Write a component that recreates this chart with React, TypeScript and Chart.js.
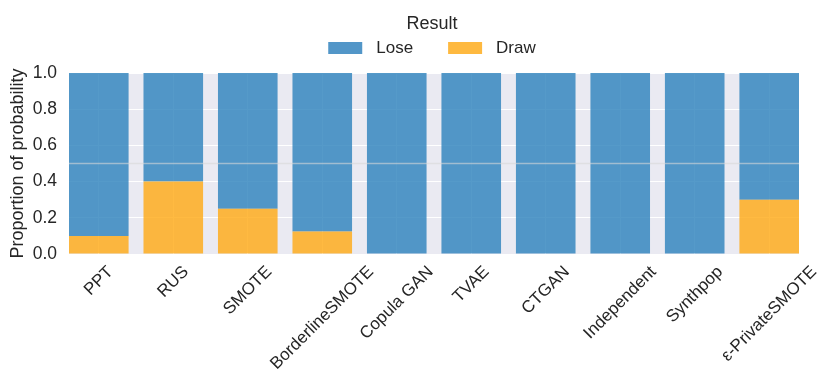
import React, { useEffect, useRef } from "react";
import { Chart, registerables } from "chart.js";

Chart.register(...registerables);

const categories = ["PPT", "RUS", "SMOTE", "BorderlineSMOTE", "Copula GAN", "TVAE", "CTGAN", "Independent", "Synthpop", "ε-PrivateSMOTE"];
const drawValues = [0.1, 0.4, 0.25, 0.125, 0, 0, 0, 0, 0, 0.3];
const loseValues = [0.9, 0.6, 0.75, 0.875, 1, 1, 1, 1, 1, 0.7];
const yTicks = [0, 0.2, 0.4, 0.6, 0.8, 1.0];
const legendTitle = "Result";
const yTitle = "Proportion of probability";

const FONT = "'Liberation Sans', Arial, sans-serif";
const TEXT = "#262626";
const BLUE = "rgba(43,129,188,0.8)";
const ORANGE = "rgba(255,169,18,0.8)";

const customPlugin = {
  id: "custom",
  beforeDraw(chart: any) {
    const { ctx, chartArea } = chart;
    ctx.save();
    ctx.fillStyle = "#EAEAF2";
    ctx.fillRect(chartArea.left, chartArea.top, chartArea.right - chartArea.left, chartArea.bottom - chartArea.top);
    ctx.restore();
  },
  afterDatasetsDraw(chart: any) {
    const { ctx, chartArea, scales } = chart;
    const y = scales.y.getPixelForValue(0.5);
    ctx.save();
    ctx.strokeStyle = "rgba(215,215,215,0.6)";
    ctx.lineWidth = 1.5;
    ctx.beginPath();
    ctx.moveTo(chartArea.left, y);
    ctx.lineTo(chartArea.right, y);
    ctx.stroke();
    ctx.restore();
  },
  afterDraw(chart: any) {
    const { ctx, chartArea, scales } = chart;
    ctx.save();
    // x labels, rotated 45°, centered on tick
    ctx.font = `17px ${FONT}`;
    ctx.fillStyle = TEXT;
    ctx.textAlign = "center";
    ctx.textBaseline = "middle";
    const top = chartArea.bottom + 11;
    categories.forEach((label, i) => {
      const x = scales.x.getPixelForValue(i);
      const w = ctx.measureText(label).width;
      const cy = top + (w + 12) * 0.35355;
      ctx.save();
      ctx.translate(x, cy);
      ctx.rotate(-Math.PI / 4);
      ctx.fillText(label, 0, 0);
      ctx.restore();
    });

    // legend
    const cx = (chartArea.left + chartArea.right) / 2;
    ctx.font = `18px ${FONT}`;
    ctx.textAlign = "center";
    ctx.textBaseline = "middle";
    ctx.fillText(legendTitle, cx - 2, 24);
    ctx.font = `17px ${FONT}`;
    const items = [
      { label: chart.data.datasets[1].label, color: "rgba(39,124,186,0.8)" },
      { label: chart.data.datasets[0].label, color: "rgba(254,167,16,0.8)" },
    ];
    const boxW = 34, boxH = 12, gapText = 14, gapItem = 35;
    let total = 0;
    items.forEach((it, i) => {
      total += boxW + gapText + ctx.measureText(it.label).width + (i < items.length - 1 ? gapItem : 0);
    });
    let x = cx - 2 - total / 2;
    ctx.textAlign = "left";
    items.forEach((it) => {
      ctx.fillStyle = it.color;
      ctx.fillRect(x, 42, boxW, boxH);
      x += boxW + gapText;
      ctx.fillStyle = TEXT;
      ctx.fillText(it.label, x, 48.5);
      x += ctx.measureText(it.label).width + gapItem;
    });
    ctx.restore();
  },
};

export default function App() {
  const ref = useRef<HTMLCanvasElement | null>(null);
  useEffect(() => {
    if (!ref.current) return;
    const chart = new Chart(ref.current, {
      type: "bar",
      data: {
        datasets: [
          {
            label: "Draw",
            data: drawValues.map((v, i) => ({ x: i, y: v })),
            backgroundColor: ORANGE,
            borderWidth: 0,
            barPercentage: 0.8,
            categoryPercentage: 1,
          },
          {
            label: "Lose",
            data: loseValues.map((v, i) => ({ x: i, y: v })),
            backgroundColor: BLUE,
            borderWidth: 0,
            barPercentage: 0.8,
            categoryPercentage: 1,
          },
        ],
      },
      options: {
        animation: false,
        responsive: false,
        devicePixelRatio: 1,
        layout: { padding: { left: 0, right: 32, top: 73, bottom: 133 } },
        plugins: { legend: { display: false }, tooltip: { enabled: false } },
        scales: {
          x: {
            type: "linear",
            stacked: true,
            offset: false,
            min: -0.4,
            max: categories.length - 0.6,
            ticks: { display: false, stepSize: 1 },
            afterBuildTicks: (scale: any) => {
              scale.ticks = categories.map((_, i) => ({ value: i }));
            },
            grid: { color: "#ffffff", lineWidth: 1, drawTicks: false, offset: false },
            border: { display: false },
            afterFit: (scale: any) => {
              scale.height = 0;
            },
          },
          y: {
            stacked: true,
            min: 0,
            max: 1,
            afterBuildTicks: (scale: any) => {
              scale.ticks = yTicks.map((v) => ({ value: v }));
            },
            ticks: {
              color: TEXT,
              font: { family: FONT, size: 17.5 },
              padding: 12,
              callback: (v: any) => Number(v).toFixed(1),
            },
            grid: { color: "#ffffff", lineWidth: 1, drawTicks: false },
            border: { display: false },
            title: {
              display: true,
              text: yTitle,
              color: TEXT,
              font: { family: FONT, size: 18 },
              padding: { top: 7, bottom: 0 },
            },
            afterFit: (scale: any) => {
              scale.width = 69;
            },
          },
        },
      },
      plugins: [customPlugin],
    } as any);
    return () => chart.destroy();
  }, []);
  return (
    <div style={{ position: "fixed", left: 0, top: 0, width: 831, height: 387, background: "#fff" }}>
      <canvas ref={ref} width={831} height={387} style={{ display: "block" }} />
    </div>
  );
}
